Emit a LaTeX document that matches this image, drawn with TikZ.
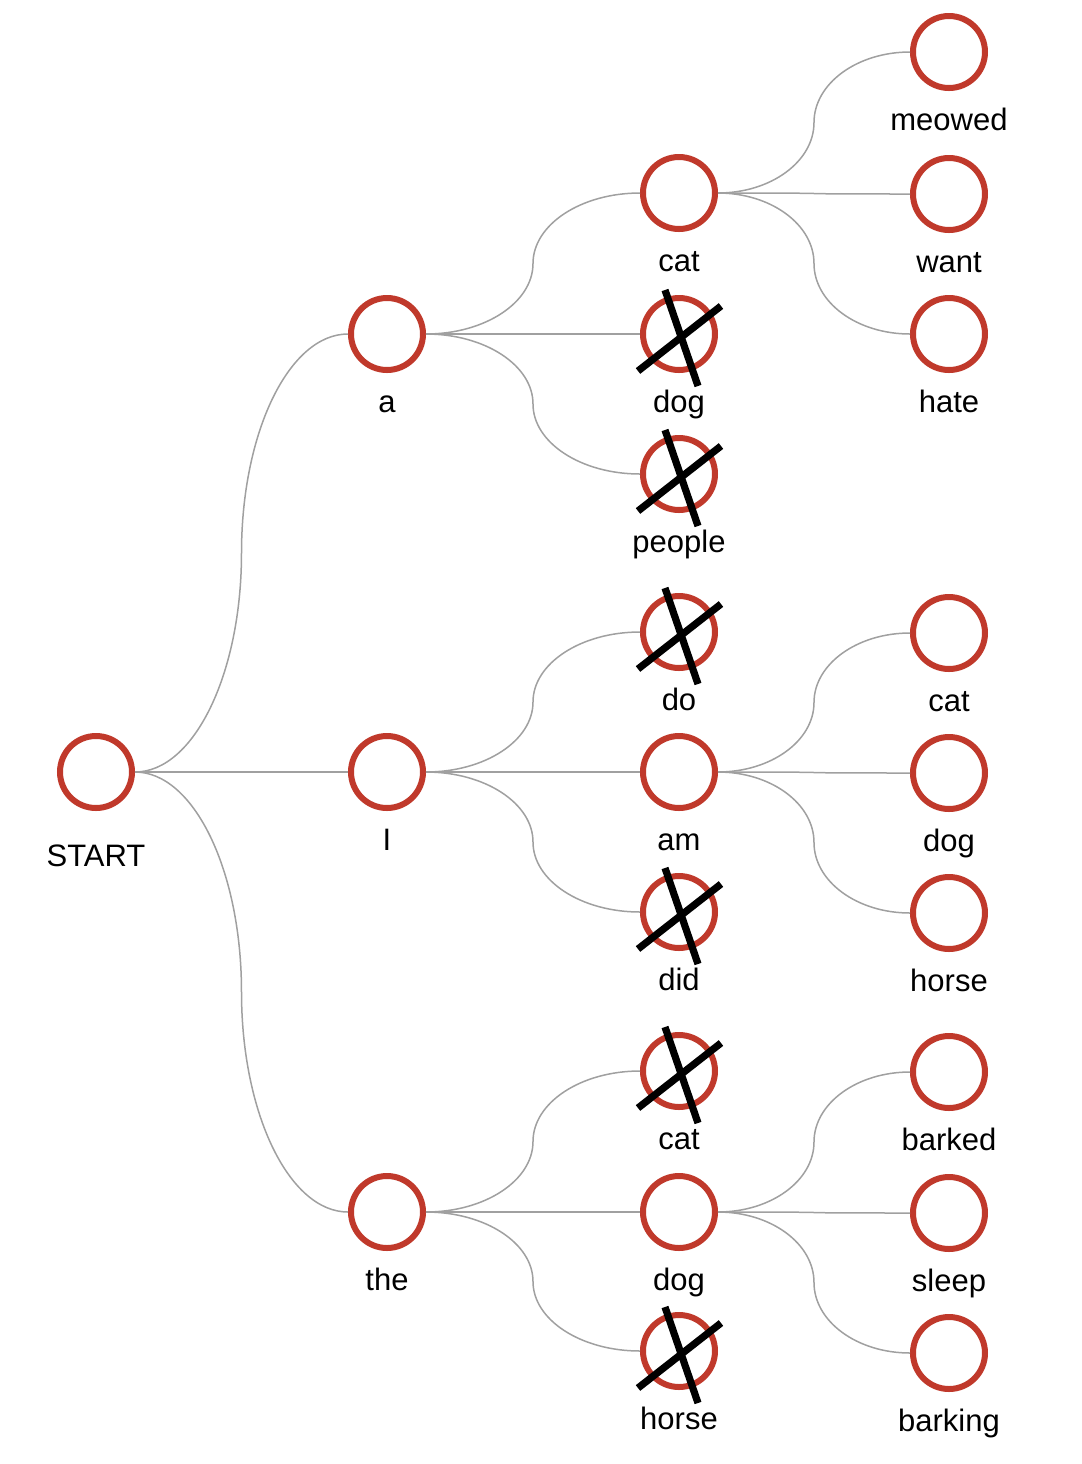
\documentclass[tikz,border=0pt]{standalone}
\usepackage{fontspec}
\setmainfont{Liberation Sans}
\usetikzlibrary{calc}
\definecolor{ring}{HTML}{C0392B}
\definecolor{wire}{HTML}{A0A0A0}
\begin{document}
\begin{tikzpicture}[x=0.5pt,y=-0.5pt,
  word/.style={circle,draw=ring,line width=3pt,fill=white,minimum size=36pt,inner sep=0pt},
  lbl/.style={font=\fontsize{15.5pt}{18pt}\selectfont,anchor=base,inner sep=0pt},
  link/.style={draw=wire,line width=0.75pt},
  sweep/.style={to path={let \p1=(\tikztostart), \p2=(\tikztotarget), \p3=($(\p1)!0.5!(\p2)$) in
     .. controls ($(\p1)!0.552!(\x3,\y1)$) and ($(\p3)!0.552!(\x3,\y1)$) .. (\p3)
     .. controls ($(\p3)!0.552!(\x3,\y2)$) and ($(\p2)!0.552!(\x3,\y2)$) .. (\p2)}},
  xline/.style={line width=3.6pt,black}]
\useasboundingbox (0,0) rectangle (1082,1464);
% nodes
\node[word] (s) at (96,772) {};
\node[word] (a) at (387,334) {};
\node[word] (i) at (387,772) {};
\node[word] (the) at (387,1212) {};
\node[word] (acat) at (679,193) {};
\node[word] (adog) at (679,334) {};
\node[word] (apeople) at (679,474) {};
\node[word] (ido) at (679,632) {};
\node[word] (iam) at (679,772) {};
\node[word] (idid) at (679,912) {};
\node[word] (tcat) at (679,1071) {};
\node[word] (tdog) at (679,1212) {};
\node[word] (thorse) at (679,1351) {};
\node[word] (meowed) at (949,52) {};
\node[word] (want) at (949,194) {};
\node[word] (hate) at (949,334) {};
\node[word] (mcat) at (949,633) {};
\node[word] (mdog) at (949,773) {};
\node[word] (mhorse) at (949,913) {};
\node[word] (barked) at (949,1072) {};
\node[word] (sleep) at (949,1213) {};
\node[word] (barking) at (949,1353) {};
% edges
\foreach \p/\c in {s/a,s/i,s/the,a/acat,a/adog,a/apeople,i/ido,i/iam,i/idid,the/tcat,the/tdog,the/thorse,acat/meowed,acat/want,acat/hate,iam/mcat,iam/mdog,iam/mhorse,tdog/barked,tdog/sleep,tdog/barking}
  \draw[link] (\p.east) to[sweep] (\c.west);
% labels
\node[lbl] (l-s) at ([yshift=-47pt]s.center) {START};
\foreach \n/\t in {a/a,i/I,the/the,acat/cat,adog/dog,apeople/people,ido/do,iam/am,idid/did,tcat/cat,tdog/dog,thorse/horse,meowed/meowed,want/want,hate/hate,mcat/cat,mdog/dog,mhorse/horse,barked/barked,sleep/sleep,barking/barking}
  \node[lbl] (l-\n) at ([yshift=-39pt]\n.center) {\t};
% crosses on pruned words
\foreach \n in {adog,apeople,ido,idid,tcat,thorse}{
  \draw[xline] ([shift={(-14,-44)}]\n.center) -- ([shift={(19,52)}]\n.center);
  \draw[xline] ([shift={(42,-28)}]\n.center) -- ([shift={(-41,37)}]\n.center);
}
\end{tikzpicture}
\end{document}
